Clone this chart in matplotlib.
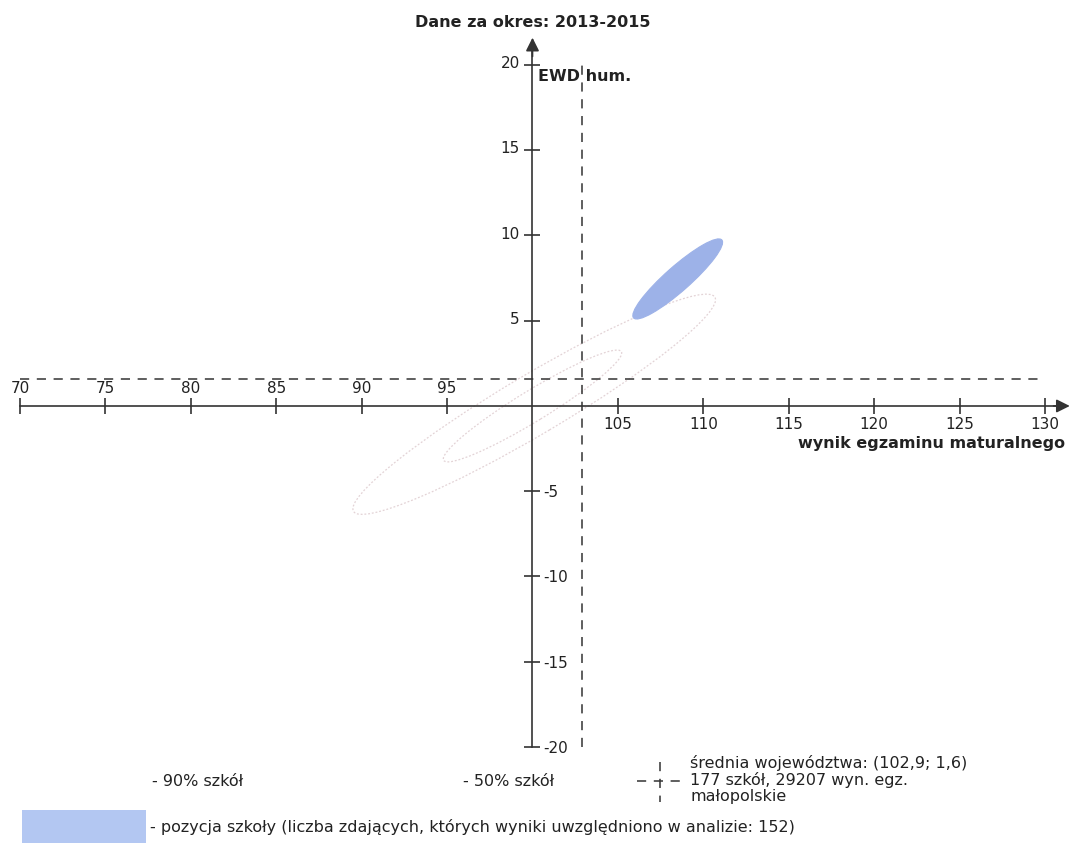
import matplotlib
matplotlib.use("Agg")
import matplotlib.pyplot as plt
from matplotlib.patches import Ellipse, Rectangle
from matplotlib.lines import Line2D

# ---- data ----
x_ticks = [70, 75, 80, 85, 90, 95, 105, 110, 115, 120, 125, 130]
y_ticks = [-20, -15, -10, -5, 5, 10, 15, 20]
mean_x = 102.9
mean_y = 1.6
origin_x = 100
origin_y = 0

# ellipses: (center x, center y, width, height, angle)
ellipse_90 = [100.1, 0.1, 24.6, 3.5, 30.7]
ellipse_50 = [100.0, 0.0, 12.2, 1.8, 31.5]
school_ellipse = [108.5, 7.45, 6.9, 1.45, 41.5]

title = "Dane za okres: 2013-2015"
ylabel = "EWD hum."
xlabel = "wynik egzaminu maturalnego"

W, H = 1072, 844
fig = plt.figure(figsize=(W / 100, H / 100), dpi=100)
ax = fig.add_axes([0, 0, 1, 1])
ax.set_xlim(68.83, 131.58)
ax.set_ylim(-25.69, 23.81)
ax.patch.set_visible(False)

axcol = "#333333"
lw = 1.2

# spines as the axes
for s in ["top", "right"]:
    ax.spines[s].set_visible(False)
ax.spines["left"].set_position(("data", origin_x))
ax.spines["bottom"].set_position(("data", origin_y))
ax.spines["left"].set_bounds(-20, 20.8)
ax.spines["bottom"].set_bounds(70, 131.0)
for s in ["left", "bottom"]:
    ax.spines[s].set_color(axcol)
    ax.spines[s].set_linewidth(lw)

ax.set_xticks(x_ticks)
ax.set_yticks(y_ticks)
ax.tick_params(axis="both", direction="inout", length=12, width=lw, color=axcol,
               labelbottom=False, labelleft=False)

# arrow heads
ax.annotate("", xy=(131.45, origin_y), xytext=(130.5, origin_y),
            arrowprops=dict(arrowstyle="-|>", mutation_scale=20, color=axcol, lw=lw,
                            shrinkA=0, shrinkB=0))
ax.annotate("", xy=(origin_x, 21.6), xytext=(origin_x, 20.5),
            arrowprops=dict(arrowstyle="-|>", mutation_scale=20, color=axcol, lw=lw,
                            shrinkA=0, shrinkB=0))

fs = 11
fs2 = 11.5
tcol = "#222222"
for v in x_ticks:
    if v < origin_x:
        ax.annotate(str(v), xy=(v, origin_y), xytext=(0, 7), textcoords="offset points",
                    ha="center", va="bottom", fontsize=fs, color=tcol)
    else:
        ax.annotate(str(v), xy=(v, origin_y), xytext=(0, -8), textcoords="offset points",
                    ha="center", va="top", fontsize=fs, color=tcol)
for v in y_ticks:
    if v > origin_y:
        ax.annotate(str(v), xy=(origin_x, v), xytext=(-9, 1), textcoords="offset points",
                    ha="right", va="center", fontsize=fs, color=tcol)
    else:
        ax.annotate(str(v), xy=(origin_x, v), xytext=(8, -1), textcoords="offset points",
                    ha="left", va="center", fontsize=fs, color=tcol)

# dashed mean lines
dash = (0, (6, 5))
ax.plot([70, 130], [mean_y, mean_y], color=axcol, lw=1.1, linestyle=dash)
ax.plot([mean_x, mean_x], [-20, 20], color=axcol, lw=1.1, linestyle=dash)

# faint ellipses
for e in (ellipse_90, ellipse_50):
    ax.add_patch(Ellipse((e[0], e[1]), e[2], e[3], angle=e[4], fill=False,
                         edgecolor="#e3d3d6", lw=0.9, linestyle=(0, (1.5, 1.5))))

# school ellipse
se = school_ellipse
ax.add_patch(Ellipse((se[0], se[1]), se[2], se[3], angle=se[4],
                     facecolor="#9db2e8", edgecolor="#9db2e8", lw=0.8))

# texts
ax.text(origin_x, 22.5, title, ha="center", va="center", fontsize=fs2,
        fontweight="bold", color=tcol)
ax.annotate(ylabel, xy=(origin_x, 19.3), xytext=(4, 0), textcoords="offset points",
            ha="left", va="center", fontsize=fs2, fontweight="bold", color=tcol)
ax.annotate(xlabel, xy=(131.2, -2.2), ha="right", va="center", fontsize=fs2,
            fontweight="bold", color=tcol)

# legend area (figure pixel coords)
def fx(px):
    return px / W

def fy(py):
    return 1 - py / H

fig.text(fx(152), fy(781), "- 90% szkół", fontsize=fs2, va="center", ha="left", color=tcol)
fig.text(fx(463), fy(781), "- 50% szkół", fontsize=fs2, va="center", ha="left", color=tcol)

fig.add_artist(Line2D([fx(637), fx(682)], [fy(781), fy(781)], color=axcol, lw=1.1,
                      linestyle=(0, (6, 5))))
fig.add_artist(Line2D([fx(660), fx(660)], [fy(762), fy(802)], color=axcol, lw=1.1,
                      linestyle=(0, (6, 5))))
fig.text(fx(690), fy(763), "średnia województwa: (102,9; 1,6)", fontsize=fs2,
         va="center", ha="left", color=tcol)
fig.text(fx(690), fy(780), "177 szkół, 29207 wyn. egz.", fontsize=fs2,
         va="center", ha="left", color=tcol)
fig.text(fx(690), fy(797), "małopolskie", fontsize=fs2, va="center", ha="left", color=tcol)

fig.add_artist(Rectangle((fx(22), fy(843)), fx(146) - fx(22), fy(810) - fy(843),
                         transform=fig.transFigure, facecolor="#b3c7f2", edgecolor="none"))
fig.text(fx(150), fy(827),
         "- pozycja szkoły (liczba zdających, których wyniki uwzględniono w analizie: 152)",
         fontsize=fs2, va="center", ha="left", color=tcol)

fig.savefig("out.png", dpi=100, facecolor="white")
